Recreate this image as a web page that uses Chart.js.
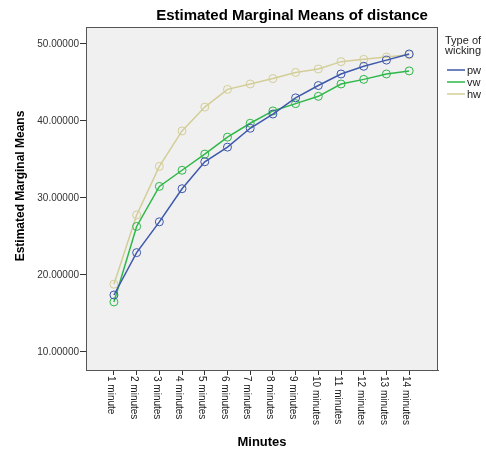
<!DOCTYPE html>
<html>
<head>
<meta charset="utf-8">
<script src="https://cdn.jsdelivr.net/npm/chart.js@4"></script>
<style>
  body { margin: 0; background: #fff; }
  #wrap { width: 486px; height: 451px; }
</style>
</head>
<body>
<div id="wrap"><canvas id="chart" width="486" height="451"></canvas></div>
<script>
// data
const minutes = [1, 2, 3, 4, 5, 6, 7, 8, 9, 10, 11, 12, 13, 14];
const minuteLabels = ["1 minute", "2 minutes", "3 minutes", "4 minutes", "5 minutes", "6 minutes", "7 minutes",
    "8 minutes", "9 minutes", "10 minutes", "11 minutes", "12 minutes", "13 minutes", "14 minutes"];
const pw = [17.4, 22.9, 26.9, 31.2, 34.7, 36.6, 39.05, 40.9, 43.0, 44.6, 46.1, 47.1, 47.9, 48.7];
const vw = [16.5, 26.3, 31.5, 33.6, 35.7, 37.9, 39.7, 41.3, 42.25, 43.2, 44.8, 45.4, 46.1, 46.5];
const hw = [18.8, 27.8, 34.1, 38.7, 41.8, 44.1, 44.8, 45.5, 46.3, 46.75, 47.7, 48.0, 48.3, 48.6];
const yTicks = [10, 20, 30, 40, 50];
const seriesNames = ["pw", "vw", "hw"];
const seriesColors = ["#3e58ac", "#2eb848", "#d3ce97"];

const FONT = '"Liberation Sans", Arial, sans-serif';
Chart.defaults.font.family = FONT;

function makeSet(name, values, color) {
    return {
        label: name,
        data: values.map((v, i) => ({ x: minutes[i], y: v })),
        borderColor: color,
        backgroundColor: "rgba(0,0,0,0)",
        borderWidth: 1.5,
        pointRadius: 4,
        pointBorderWidth: 1,
        pointBorderColor: color,
        pointBackgroundColor: "rgba(0,0,0,0)",
        tension: 0
    };
}

// background, frame, rotated x labels, titles and legend
const decor = {
    id: "decor",
    beforeDraw(chart) {
        const a = chart.chartArea, ctx = chart.ctx;
        ctx.save();
        ctx.fillStyle = "#f0f0f0";
        ctx.fillRect(a.left, a.top, a.right - a.left, a.bottom - a.top);
        ctx.restore();
    },
    afterDraw(chart) {
        const a = chart.chartArea, ctx = chart.ctx;
        const xs = chart.scales.x;
        ctx.save();
        ctx.strokeStyle = "#555";
        ctx.lineWidth = 1;
        ctx.strokeRect(a.left + 0.5, a.top + 0.5, a.right - a.left - 1, a.bottom - a.top);

        // x tick labels, reading top to bottom
        ctx.fillStyle = "#222";
        ctx.font = "10px " + FONT;
        ctx.textAlign = "left";
        ctx.textBaseline = "middle";
        minutes.forEach((m, i) => {
            const px = xs.getPixelForValue(m);
            ctx.save();
            ctx.translate(px - 3, a.bottom + 6);
            ctx.rotate(Math.PI / 2);
            ctx.fillText(minuteLabels[i], 0, 0);
            ctx.restore();
        });

        // titles
        ctx.fillStyle = "#000";
        ctx.textAlign = "center";
        ctx.textBaseline = "alphabetic";
        ctx.font = "bold 15px " + FONT;
        ctx.fillText("Estimated Marginal Means of distance", 292, 20);
        ctx.font = "bold 13px " + FONT;
        ctx.fillText("Minutes", 262, 446);
        ctx.save();
        ctx.translate(24, 186);
        ctx.rotate(-Math.PI / 2);
        ctx.font = "bold 12px " + FONT;
        ctx.fillText("Estimated Marginal Means", 0, 0);
        ctx.restore();

        // legend
        ctx.textAlign = "left";
        ctx.textBaseline = "middle";
        ctx.font = "11px " + FONT;
        ctx.fillStyle = "#222";
        ctx.fillText("Type of", 445, 41);
        ctx.fillText("wicking", 445, 51);
        seriesNames.forEach((n, i) => {
            const y = 70 + i * 12;
            ctx.strokeStyle = seriesColors[i];
            ctx.lineWidth = 1.5;
            ctx.beginPath();
            ctx.moveTo(447, y);
            ctx.lineTo(465, y);
            ctx.stroke();
            ctx.fillStyle = "#222";
            ctx.fillText(n, 467, y + 1);
        });
        ctx.restore();
    }
};

new Chart(document.getElementById("chart"), {
    type: "line",
    data: {
        datasets: [
            makeSet(seriesNames[0], pw, seriesColors[0]),
            makeSet(seriesNames[1], vw, seriesColors[1]),
            makeSet(seriesNames[2], hw, seriesColors[2])
        ]
    },
    options: {
        responsive: false,
        animation: false,
        layout: { padding: { top: 27, right: 48, left: 0, bottom: 0 } },
        plugins: {
            legend: { display: false },
            title: { display: false },
            tooltip: { enabled: false }
        },
        scales: {
            x: {
                type: "linear",
                min: -0.23,
                max: 15.27,
                afterBuildTicks: s => { s.ticks = minutes.map(v => ({ value: v })); },
                afterFit: s => { s.height = 81; },
                ticks: { display: false },
                grid: { drawOnChartArea: false, drawTicks: true, tickLength: 5, color: "#333" },
                border: { color: "#555" }
            },
            y: {
                min: 7.66,
                max: 52.2,
                afterBuildTicks: s => { s.ticks = yTicks.map(v => ({ value: v })); },
                afterFit: s => { s.width = 86; },
                ticks: {
                    callback: v => v.toFixed(5),
                    font: { size: 10 },
                    color: "#333",
                    padding: 1
                },
                grid: { drawOnChartArea: false, drawTicks: true, tickLength: 6, color: "#333" },
                border: { color: "#555" }
            }
        }
    },
    plugins: [decor]
});
</script>
</body>
</html>
